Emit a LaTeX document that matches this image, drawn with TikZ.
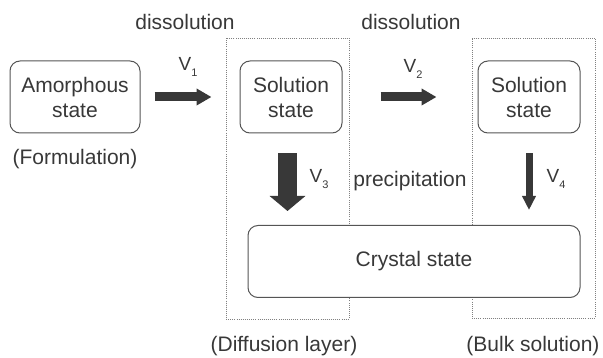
\documentclass[tikz,border=0pt]{standalone}
\usepackage{fontspec}
\setmainfont{Liberation Sans}
\usetikzlibrary{arrows.meta}
\definecolor{ink}{HTML}{383838}
\definecolor{boxline}{HTML}{555555}
\definecolor{dotline}{HTML}{808080}
\newcommand{\vlab}[1]{V\raisebox{-6pt}{\fontsize{11}{11}\selectfont #1}}
\begin{document}
\begin{tikzpicture}[x=1pt,y=-1pt,
  font=\fontsize{21}{25}\selectfont, text=ink,
  state/.style={draw=boxline, fill=white, line width=1pt, rounded corners=10pt, align=center,
    inner sep=0pt, minimum height=72pt},
  layer/.style={draw=dotline, line width=0.9pt, dash pattern=on 0.9pt off 1.2pt,
    inner sep=0pt},
  lab/.style={inner sep=0pt},
  vl/.style={inner sep=0pt, font=\fontsize{19}{20}\selectfont},
  harrow/.style={draw=ink, line width=9pt, -{Triangle[width=16pt,length=15pt]}},
  bigarrow/.style={draw=ink, line width=19pt, -{Triangle[width=35pt,length=15pt]}},
  thinarrow/.style={draw=ink, line width=7pt, -{Triangle[width=13pt,length=14pt]}}
]
\useasboundingbox (0,0) rectangle (603,358);
% dotted regions
\node[layer, minimum width=123pt, minimum height=281pt] (diff) at (287.5,178.5) {};
\node[layer, minimum width=123pt, minimum height=280pt] (bulk) at (533.5,178) {};
% states
\node[state, minimum width=130pt] (amor) at (75,97) {Amorphous\\state};
\node[state, minimum width=102pt] (sol1) at (291,97) {Solution\\state};
\node[state, minimum width=102pt] (sol2) at (529,97) {Solution\\state};
\node[state, minimum width=332pt] (cryst) at (414,261.5) {Crystal state};
% labels
\node[lab] (diss1) at (185,22) {dissolution};
\node[lab] (diss2) at (411,22) {dissolution};
\node[lab] (form) at (75,159) {(Formulation)};
\node[lab] (prec) at (410,181) {precipitation};
\node[lab] (difflab) at (284,346) {(Diffusion layer)};
\node[lab] (bulklab) at (533,346) {(Bulk solution)};
\node[vl] (v1) at (188,67) {\vlab{1}};
\node[vl] (v2) at (413,69) {\vlab{2}};
\node[vl] (v3) at (319,179) {\vlab{3}};
\node[vl] (v4) at (556,179) {\vlab{4}};
% arrows
\draw[harrow, shorten <=14pt, shorten >=28pt] (amor.east) -- (sol1.west);
\draw[harrow, shorten <=38pt, shorten >=41pt] (sol1.east) -- (sol2.west);
\draw[bigarrow, shorten <=20pt, shorten >=14pt] ([xshift=-3.5pt]sol1.south) -- ([xshift=-3.5pt]sol1.south |- cryst.north);
\draw[thinarrow, shorten <=20pt, shorten >=15pt] (sol2.south) -- (sol2.south |- cryst.north);
\end{tikzpicture}
\end{document}
